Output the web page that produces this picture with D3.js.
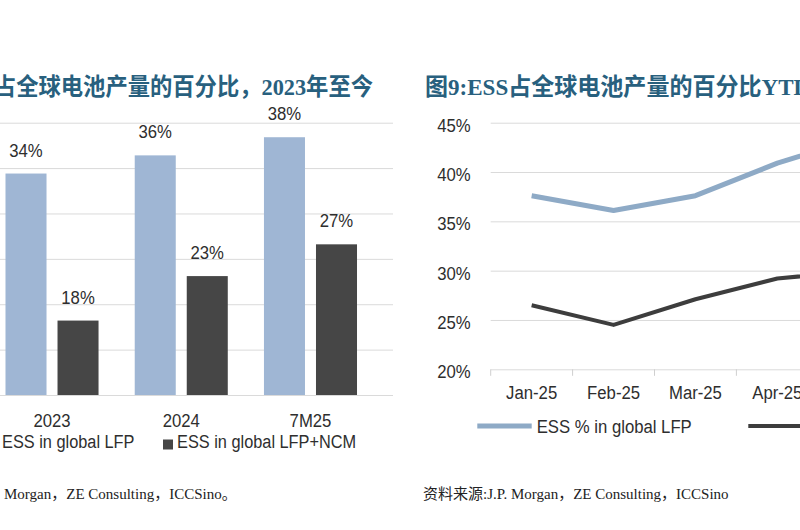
<!DOCTYPE html>
<html>
<head>
<meta charset="utf-8">
<script src="https://cdn.jsdelivr.net/npm/d3@7"></script>
<style>
  body { margin: 0; background: #fff; }
  svg { display: block; }
  .sans { font-family: "Liberation Sans", Arial, sans-serif; fill: #2e2e2e; }
  .serif { font-family: "Liberation Serif", "Times New Roman", "Noto Sans CJK SC", serif; }
</style>
</head>
<body>
<svg id="chart" width="800" height="530"></svg>
<script>
// left chart: yearly share
const leftCats = ["2023", "2024", "7M25"];
const lfpShareYear = [34.4, 36.4, 38.4];
const allShareYear = [18.2, 23.1, 26.6];
const barSeries = ["ESS in global LFP", "ESS in global LFP+NCM"];
const barTicks = [10, 15, 20, 25, 30, 35, 40];

// right chart: monthly YTD share
const months = ["Jan-25", "Feb-25", "Mar-25", "Apr-25", "May-25"];
const lfpShareMonth = [37.6, 36.1, 37.6, 40.9, 43.5];
const allShareMonth = [26.5, 24.5, 27.1, 29.2, 30.0];
const lineSeries = ["ESS % in global LFP", "ESS % in global LFP+NCM"];
const lineTicks = [20, 25, 30, 35, 40, 45];

const colBlue = "#9fb6d4";
const colDark = "#464646";
const lineBlue = "#8eaac6";
const lineDark = "#3d3d3d";
const gridCol = "#dadada";
const titleCol = "#28607e";
const SX = 0.88;   // the text in the picture is a bit narrow

const svg = d3.select("#chart");

const txt = (g, x, y, s, cls, sx) =>
  g.append("text").attr("class", cls)
    .attr("transform", `translate(${x},${y}) scale(${sx || SX},1)`)
    .text(s);

// ---------- left bar chart ----------
const yL = d3.scaleLinear().domain([10, 40]).range([395, 122.7]);
const x0 = d3.scaleBand().domain(leftCats).range([-12.6, 375.1]).paddingInner(0.28).paddingOuter(0.14);
const x1 = d3.scaleBand().domain(barSeries).range([0, x0.bandwidth()]).paddingInner(0.2115);
const barCol = d3.scaleOrdinal().domain(barSeries).range([colBlue, colDark]);

const gridL = svg.append("g").attr("transform", "translate(-12,0)")
  .call(d3.axisLeft(yL).tickValues(barTicks).tickSize(-405).tickFormat(""));
gridL.select(".domain").remove();
gridL.selectAll("line").attr("stroke", gridCol);

const rows = leftCats.map((c, i) => ({ cat: c, vals: [lfpShareYear[i], allShareYear[i]] }));
const grp = svg.append("g").selectAll("g").data(rows).enter().append("g")
  .attr("transform", d => `translate(${x0(d.cat)},0)`);
grp.selectAll("rect").data(d => d.vals.map((v, j) => ({ s: barSeries[j], v }))).enter().append("rect")
  .attr("x", d => x1(d.s))
  .attr("y", d => yL(d.v))
  .attr("width", x1.bandwidth())
  .attr("height", d => yL(10) - yL(d.v))
  .attr("fill", d => barCol(d.s));
grp.selectAll("text").data(d => d.vals.map((v, j) => ({ s: barSeries[j], v }))).enter().append("text")
  .attr("class", "sans")
  .attr("text-anchor", "middle")
  .style("font-size", "19px")
  .attr("transform", d => `translate(${x1(d.s) + x1.bandwidth() / 2},${yL(d.v) - 17}) scale(${SX},1)`)
  .text(d => d3.format(".0f")(d.v) + "%");

const axL = svg.append("g").attr("transform", "translate(0,395)")
  .call(d3.axisBottom(x0).tickSize(0));
axL.select(".domain").remove();
axL.selectAll("text").attr("class", "sans").attr("y", 31.7).attr("dy", 0)
  .attr("transform", `scale(${SX},1)`).style("font-size", "19px");

// legend
const legL = svg.append("g").style("font-size", "19px");
[[-12, 2], [163, 177]].forEach((p, i) => {
  legL.append("rect").attr("x", p[0]).attr("y", 439.5).attr("width", 10).attr("height", 10)
    .attr("fill", barCol(barSeries[i]));
  txt(legL, p[1], 448.3, barSeries[i], "sans", 0.86);
});

// ---------- right line chart ----------
const yR = d3.scaleLinear().domain([20, 45]).range([369.3, 122.7]);
const xR = d3.scaleBand().domain(months).range([490.7, 490.7 + 81.9 * months.length]);

const gridR = svg.append("g").attr("transform", "translate(490.7,0)")
  .call(d3.axisLeft(yR).tickValues(lineTicks).tickSize(-330).tickFormat(d => d + "%"));
gridR.select(".domain").remove();
gridR.selectAll("line").attr("stroke", gridCol);
gridR.selectAll("text").attr("class", "sans").attr("x", -20 / SX).attr("dy", "0.45em")
  .attr("transform", `scale(${SX},1)`).style("font-size", "19px");

svg.append("g").selectAll("line").data(months).enter().append("line")
  .attr("x1", d => xR(d)).attr("x2", d => xR(d))
  .attr("y1", yR(20)).attr("y2", yR(20) + 6.5)
  .attr("stroke", "#cfcfcf");

const axR = svg.append("g").attr("transform", `translate(0,${yR(20)})`)
  .call(d3.axisBottom(xR).tickSize(0));
axR.select(".domain").remove();
axR.selectAll("text").attr("class", "sans").attr("y", 30).attr("dy", 0)
  .attr("transform", `scale(${SX},1)`).style("font-size", "19px");

const line = d3.line()
  .x((d, i) => xR(months[i]) + xR.bandwidth() / 2)
  .y(d => yR(d));
svg.append("path").datum(lfpShareMonth).attr("d", line)
  .attr("fill", "none").attr("stroke", lineBlue).attr("stroke-width", 5).attr("stroke-linejoin", "round");
svg.append("path").datum(allShareMonth).attr("d", line)
  .attr("fill", "none").attr("stroke", lineDark).attr("stroke-width", 4).attr("stroke-linejoin", "round");

const legR = svg.append("g").style("font-size", "19px");
[[477.3, lineBlue, 5], [748.3, lineDark, 4]].forEach((p, i) => {
  legR.append("line").attr("x1", p[0]).attr("x2", p[0] + 54.4).attr("y1", 426).attr("y2", 426)
    .attr("stroke", p[1]).attr("stroke-width", p[2]);
  txt(legR, p[0] + 59.4, 432.7, lineSeries[i], "sans");
});

// ---------- titles and sources ----------
txt(svg, 373, 95, "占全球电池产量的百分比，2023年至今", "serif", 0.93)
  .attr("text-anchor", "end").style("font-size", "24px").style("font-weight", "bold").style("fill", titleCol);
txt(svg, 425, 95, "图9:ESS占全球电池产量的百分比YTD", "serif", 0.96)
  .style("font-size", "24px").style("font-weight", "bold").style("fill", titleCol);

txt(svg, 4, 499, "Morgan，ZE Consulting，ICCSino。", "serif", 1).style("font-size", "15px").style("fill", "#222");
txt(svg, 423, 499, "资料来源:J.P. Morgan，ZE Consulting，ICCSino", "serif", 1).style("font-size", "15px").style("fill", "#222");
</script>
</body>
</html>
